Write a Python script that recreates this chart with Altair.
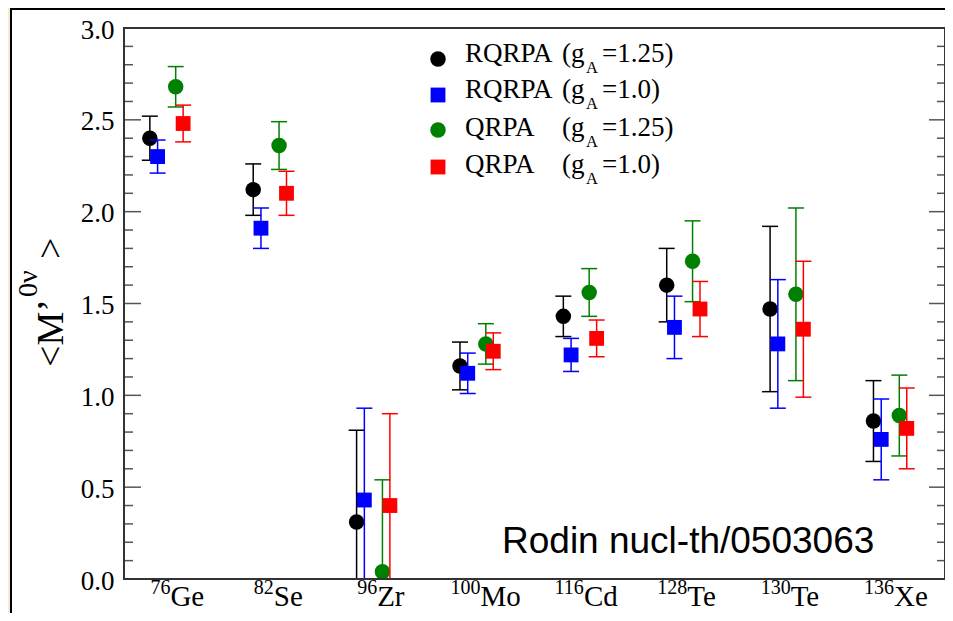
import altair as alt
import pandas as pd

# ---------------- data ----------------
MASS = ["76", "82", "96", "100", "116", "128", "130", "136"]
ELEMENT = ["Ge", "Se", "Zr", "Mo", "Cd", "Te", "Te", "Xe"]

SERIES = ["RQRPA (gA=1.25)", "RQRPA (gA=1.0)", "QRPA (gA=1.25)", "QRPA (gA=1.0)"]

RQRPA_125 = [2.40, 2.12, 0.31, 1.16, 1.43, 1.60, 1.47, 0.86]
RQRPA_125_LO = [2.28, 1.98, -0.19, 1.03, 1.32, 1.40, 1.02, 0.64]
RQRPA_125_HI = [2.52, 2.26, 0.81, 1.29, 1.54, 1.80, 1.92, 1.08]

RQRPA_10 = [2.30, 1.91, 0.43, 1.12, 1.22, 1.37, 1.28, 0.76]
RQRPA_10_LO = [2.21, 1.80, -0.07, 1.01, 1.13, 1.20, 0.93, 0.54]
RQRPA_10_HI = [2.39, 2.02, 0.93, 1.23, 1.31, 1.54, 1.63, 0.98]

QRPA_125 = [2.68, 2.36, 0.04, 1.28, 1.56, 1.73, 1.55, 0.89]
QRPA_125_LO = [2.57, 2.23, -0.46, 1.17, 1.43, 1.51, 1.08, 0.67]
QRPA_125_HI = [2.79, 2.49, 0.54, 1.39, 1.69, 1.95, 2.02, 1.11]

QRPA_10 = [2.48, 2.10, 0.40, 1.24, 1.31, 1.47, 1.36, 0.82]
QRPA_10_LO = [2.38, 1.98, -0.10, 1.14, 1.21, 1.32, 0.99, 0.60]
QRPA_10_HI = [2.58, 2.22, 0.90, 1.34, 1.41, 1.62, 1.73, 1.04]

MAJOR_TICKS = [0.0, 0.5, 1.0, 1.5, 2.0, 2.5, 3.0]
MINOR_TICKS = [0.1, 0.2, 0.3, 0.4, 0.6, 0.7, 0.8, 0.9, 1.1, 1.2, 1.3, 1.4,
               1.6, 1.7, 1.8, 1.9, 2.1, 2.2, 2.3, 2.4, 2.6, 2.7, 2.8, 2.9]

LEGEND_NAME = ["RQRPA", "RQRPA", "QRPA", "QRPA"]
LEGEND_VAL = ["=1.25)", "=1.0)", "=1.25)", "=1.0)"]

# ---------------- style / layout ----------------
W, H = 821, 551
OFFSET = {SERIES[0]: -0.16, SERIES[1]: -0.085, SERIES[2]: 0.09, SERIES[3]: 0.162}
COLOR = {SERIES[0]: "black", SERIES[1]: "#0000ff", SERIES[2]: "#008000", SERIES[3]: "#ff0000"}
SHAPE = {SERIES[0]: "circle", SERIES[1]: "square", SERIES[2]: "circle", SERIES[3]: "square"}
SIZE = {"circle": 240, "square": 220}
SERIF = "Liberation Serif"
SANS = "Liberation Sans"

values = [(RQRPA_125, RQRPA_125_LO, RQRPA_125_HI), (RQRPA_10, RQRPA_10_LO, RQRPA_10_HI),
          (QRPA_125, QRPA_125_LO, QRPA_125_HI), (QRPA_10, QRPA_10_LO, QRPA_10_HI)]
rows = []
for s, (v, lo, hi) in zip(SERIES, values):
    for i in range(len(MASS)):
        rows.append(dict(series=s, idx=i, pos=i + OFFSET[s], value=v[i], lo=lo[i], hi=hi[i]))
df = pd.DataFrame(rows)

xscale = alt.Scale(domain=[-0.41, 7.532], nice=False, zero=False)
yscale = alt.Scale(domain=[0, 3], nice=False, zero=False)
YAX = alt.Axis(values=MAJOR_TICKS, format=".1f", ticks=False, tickSize=0, domain=False,
               grid=False, title=None, labelFont=SERIF, labelFontSize=27, zindex=1,
               labelColor="black", labelPadding=10, labelOffset=2,
               labelFlush=False, labelOverlap=False)


def Y(field):
    return alt.Y(field, scale=yscale, axis=YAX)


def X(field):
    return alt.X(field, scale=xscale, axis=None)


one = pd.DataFrame({"k": [0]})

layers = []
# white figure frame with black border
layers.append(alt.Chart(one).mark_rect(fill="white", stroke="black", strokeWidth=2).encode(
    x=alt.value(-113), x2=alt.value(W + 60), y=alt.value(-19), y2=alt.value(H + 80)))

# inward ticks on both sides
for ticks, x0, x1 in [(MAJOR_TICKS, 0, 17), (MAJOR_TICKS, W - 16, W),
                      (MINOR_TICKS, 0, 9), (MINOR_TICKS, W - 8, W)]:
    layers.append(alt.Chart(pd.DataFrame({"v": ticks})).mark_rule(color="#555", strokeWidth=1.5).encode(
        y=Y("v:Q"), x=alt.value(x0), x2=alt.value(x1)))

# error bars + markers
for s in SERIES:
    base = alt.Chart(df[df.series == s])
    c = COLOR[s]
    layers.append(base.mark_rule(color=c, strokeWidth=1.5, clip=True).encode(
        x=X("pos:Q"), y=Y("lo:Q"), y2="hi:Q"))
    for f in ["lo", "hi"]:
        layers.append(base.mark_rule(color=c, strokeWidth=1.5, clip=True, xOffset=-8, x2Offset=8).encode(
            x=X("pos:Q"), x2="pos:Q", y=Y(f + ":Q")))
    layers.append(base.mark_point(filled=True, opacity=1, color=c, shape=SHAPE[s],
                                  size=SIZE[SHAPE[s]]).encode(x=X("pos:Q"), y=Y("value:Q")))

# plot border
layers.append(alt.Chart(one).mark_rect(fillOpacity=0, stroke="#333", strokeWidth=2).encode(
    x=alt.value(0), x2=alt.value(W), y=alt.value(0), y2=alt.value(H)))

# x tick labels: superscript mass number + element
lab = pd.DataFrame({"idx": list(range(len(MASS))), "mass": MASS, "el": ELEMENT})
layers.append(alt.Chart(lab).mark_text(font=SERIF, fontSize=20, align="right", baseline="alphabetic",
                                       dx=4, color="black").encode(
    x=X("idx:Q"), y=alt.value(H + 15), text="mass:N"))
layers.append(alt.Chart(lab).mark_text(font=SERIF, fontSize=29, align="left", baseline="alphabetic",
                                       dx=4, color="black").encode(
    x=X("idx:Q"), y=alt.value(H + 27), text="el:N"))

# y title  <M'^{0ν}>
for txt, xx, yy, fs in [("<M\u2019", -61, 339, 38), ("0\u03bd", -87, 269, 28), (">", -61, 231, 38)]:
    layers.append(alt.Chart(pd.DataFrame({"t": [txt]})).mark_text(
        font=SERIF, fontSize=fs, angle=270, align="left", baseline="alphabetic", color="black").encode(
        x=alt.value(xx), y=alt.value(yy), text="t:N"))

# legend
sym_y = [31, 67, 102, 139]
txt_y = [34, 70, 108, 145]
for r, s in enumerate(SERIES):
    layers.append(alt.Chart(one).mark_point(filled=True, opacity=1, color=COLOR[s], shape=SHAPE[s],
                                            size=SIZE[SHAPE[s]]).encode(
        x=alt.value(314), y=alt.value(sym_y[r])))
    for txt, xx, dy, fs in [(LEGEND_NAME[r], 341, 0, 27), ("(g", 438, 0, 27), ("A", 462, 11, 16.5),
                            (LEGEND_VAL[r], 478, 0, 27)]:
        layers.append(alt.Chart(pd.DataFrame({"t": [txt]})).mark_text(
            font=SERIF, fontSize=fs, align="left", baseline="alphabetic", color="black").encode(
            x=alt.value(xx), y=alt.value(txt_y[r] + dy), text="t:N"))

# source annotation
layers.append(alt.Chart(pd.DataFrame({"t": ["Rodin nucl-th/0503063"]})).mark_text(
    font=SANS, fontSize=37, align="left", baseline="alphabetic", color="black").encode(
    x=alt.value(378), y=alt.value(525), text="t:N"))

chart = alt.layer(*layers).properties(
    width=W, height=H,
    autosize=alt.AutoSizeParams(type="none"),
    padding={"left": 116, "top": 20, "right": 0, "bottom": 34},
).configure(background="#f7eacf").configure_view(stroke="transparent")

chart.save("out.html", embed_options={"renderer": "svg", "actions": False})
